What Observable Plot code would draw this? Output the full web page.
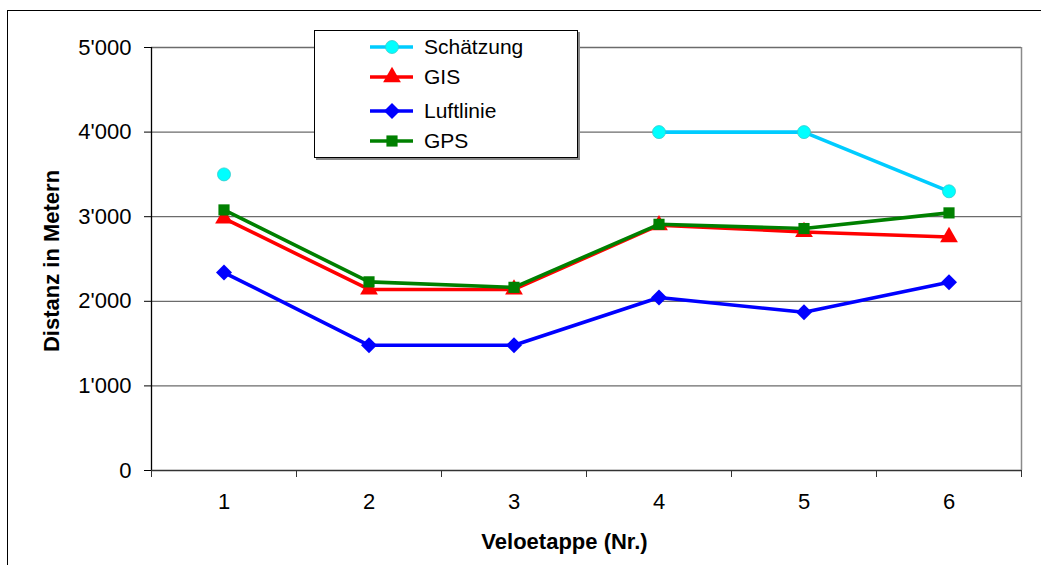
<!DOCTYPE html>
<html><head><meta charset="utf-8">
<script src="https://cdn.jsdelivr.net/npm/d3@7"></script>
<script src="https://cdn.jsdelivr.net/npm/@observablehq/plot@0.6"></script>
<style>
html,body{margin:0;padding:0;background:#fff;overflow:hidden;}
#wrap{position:relative;width:1041px;height:565px;font-family:"Liberation Sans",Arial,sans-serif;overflow:hidden;}
#frame{position:absolute;left:7px;top:10px;width:1100px;height:700px;border:1.5px solid #000;box-sizing:border-box;}
#chart{position:absolute;left:0;top:0;}
#legend{position:absolute;left:314px;top:30px;width:264px;height:128px;border:1px solid #000;background:#fff;box-sizing:border-box;box-shadow:2px 2px 0 #888;}
</style></head><body>
<div id="wrap"><div id="frame"></div><div id="chart"></div><div id="legend"></div></div>
<script>
// ---- data ----
const stages = [1, 2, 3, 4, 5, 6];
const schaetzung = [3500, null, null, 4000, 4000, 3300];
const gis = [2980, 2140, 2140, 2900, 2820, 2760];
const luftlinie = [2340, 1480, 1480, 2045, 1870, 2225];
const gps = [3080, 2230, 2165, 2910, 2860, 3045];
const seriesNames = ["Schätzung", "GIS", "Luftlinie", "GPS"];
const yTicks = [0, 1000, 2000, 3000, 4000, 5000];
const xTitle = "Veloetappe (Nr.)";
const yTitle = "Distanz in Metern";

// ---- styles ----
const seriesValues = {"Schätzung": schaetzung, "GIS": gis, "Luftlinie": luftlinie, "GPS": gps};
const styles = {
  "Schätzung": {line: "#00CCFF", fill: "#00FFFF", stroke: "#33CCCC", symbol: "circle", r: 6.5, sw: 0.8},
  "GIS": {line: "#FF0000", fill: "#FF0000", stroke: "#FF0000", symbol: "triangle", r: 6.6, sw: 0},
  "Luftlinie": {line: "#0000FF", fill: "#0000FF", stroke: "#0000FF", symbol: "diamond2", r: 7.2, sw: 0},
  "GPS": {line: "#008000", fill: "#008000", stroke: "#008000", symbol: "square", r: 6.3, sw: 0}
};
const fmt = d => d3.format(",")(d).replace(/,/g, "'");
const font = '"Liberation Sans", Arial, sans-serif';

const marks = [
  Plot.ruleY(yTicks.filter(d => d > 0), {stroke: "#6b6b6b", strokeWidth: 1.3}),
  Plot.ruleX([6.5], {y1: 0, y2: 5000, stroke: "#8a8a8a", strokeWidth: 1.5}),
  Plot.ruleX([0.5], {y1: 0, y2: 5000, stroke: "#000", strokeWidth: 1.3}),
  Plot.ruleY([0], {stroke: "#333", strokeWidth: 1.5}),
  Plot.axisY(yTicks, {tickSize: 7, tickPadding: 13, tickFormat: fmt, fontSize: 22, label: null}),
  Plot.axisX(d3.range(0.5, 7, 1), {tickSize: 7, tickFormat: () => "", label: null, stroke: "#333"}),
  Plot.axisX(stages, {tickSize: 0, tickPadding: 23, fontSize: 22, tickFormat: d => String(d), label: null}),
  Plot.text([yTitle], {frameAnchor: "left", textAnchor: "middle", dx: -100, dy: 2, rotate: -90, fontSize: 22, fontWeight: "bold", fill: "#000"}),
  Plot.text([xTitle], {frameAnchor: "bottom", dx: -22, dy: 78, fontSize: 22, fontWeight: "bold", fill: "#000"})
];
for (const name of seriesNames) {
  const st = styles[name];
  const rows = stages.map((s, i) => ({stage: s, value: seriesValues[name][i]}));
  marks.push(Plot.line(rows, {x: "stage", y: "value", stroke: st.line, strokeWidth: 3.6}));
  marks.push(Plot.dot(rows.filter(d => d.value != null), {x: "stage", y: "value", symbol: st.symbol, r: st.r, fill: st.fill, stroke: st.stroke, strokeWidth: st.sw}));
}

const chart = Plot.plot({
  width: 1041, height: 565,
  marginTop: 47, marginRight: 20, marginBottom: 95, marginLeft: 151,
  style: {fontFamily: font, background: "transparent", overflow: "visible"},
  x: {type: "linear", domain: [0.5, 6.5]},
  y: {type: "linear", domain: [0, 5000]},
  marks
});
document.getElementById("chart").appendChild(chart);

// ---- legend ----
const rowY = [17, 47, 81, 111];
const lsvg = d3.select("#legend").append("svg").attr("width", 262).attr("height", 126)
  .style("position", "absolute").style("left", "0").style("top", "0");
const symMap = {circle: d3.symbolCircle, triangle: d3.symbolTriangle, diamond2: d3.symbolDiamond2, square: d3.symbolSquare};
seriesNames.forEach((name, i) => {
  const st = styles[name];
  const g = lsvg.append("g").attr("transform", `translate(0,${rowY[i] - 1})`);
  g.append("line").attr("x1", 55).attr("x2", 98).attr("y1", 0).attr("y2", 0)
    .attr("stroke", st.line).attr("stroke-width", 3.6);
  g.append("path").attr("transform", "translate(77,0)")
    .attr("d", d3.symbol(symMap[st.symbol], st.r * st.r * Math.PI)())
    .attr("fill", st.fill).attr("stroke", st.stroke).attr("stroke-width", st.sw);
  g.append("text").attr("x", 109).attr("y", 0).attr("dy", "0.35em")
    .attr("font-size", 21).attr("font-family", font).text(name);
});
</script>
</body></html>
